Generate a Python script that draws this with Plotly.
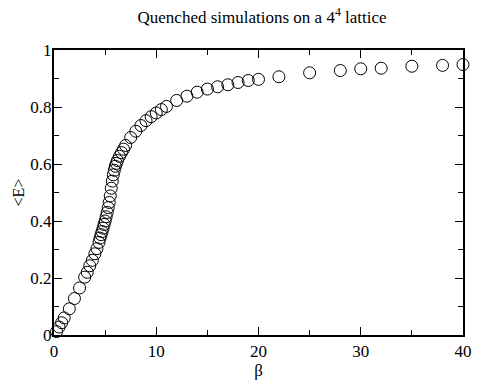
import plotly.graph_objects as go

beta = [0.25, 0.5, 0.75, 1.0, 1.5, 2.0, 2.5, 3.0, 3.25, 3.5, 3.75, 4.0, 4.2, 4.4, 4.5,
        4.6, 4.7, 4.8, 4.9, 5.0, 5.1, 5.2, 5.3, 5.4, 5.5, 5.6, 5.7, 5.8, 5.9, 6.0,
        6.1, 6.2, 6.4, 6.6, 6.8, 7.0, 7.5, 8.0, 8.5, 9.0, 9.5, 10.0, 10.5, 11.0,
        12, 13, 14, 15, 16, 17, 18, 19, 20, 22, 25, 28, 30, 32, 35, 38, 40]
energy = [0.012, 0.028, 0.043, 0.060, 0.092, 0.128, 0.165, 0.203, 0.220, 0.243, 0.262,
          0.285, 0.303, 0.325, 0.340, 0.352, 0.363, 0.375, 0.388, 0.400, 0.415, 0.430,
          0.447, 0.465, 0.488, 0.515, 0.540, 0.562, 0.578, 0.592, 0.602, 0.612, 0.627,
          0.640, 0.652, 0.665, 0.693, 0.715, 0.735, 0.752, 0.766, 0.779, 0.791, 0.802,
          0.823, 0.838, 0.852, 0.863, 0.871, 0.878, 0.886, 0.893, 0.897, 0.906, 0.920,
          0.928, 0.934, 0.936, 0.943, 0.946, 0.949]

x_ticks = [0, 10, 20, 30, 40]
y_ticks = [0, 0.2, 0.4, 0.6, 0.8, 1]
y_tick_labels = ["0", "0.2", "0.4", "0.6", "0.8", "1"]

FONT = "Liberation Serif, Times New Roman, serif"

fig = go.Figure()
fig.add_trace(go.Scatter(
    x=beta, y=energy, mode="markers",
    marker=dict(symbol="circle-open", size=12, color="black", line=dict(width=1, color="black")),
    cliponaxis=False, showlegend=False,
))

axis_common = dict(
    showgrid=False, zeroline=False, showline=True, linecolor="black", linewidth=2,
    mirror="ticks", ticks="inside", ticklen=8, tickwidth=1, tickcolor="black",
    tickfont=dict(family=FONT, size=17, color="black"),
)

fig.update_xaxes(
    range=[0, 40], tickvals=x_ticks, ticktext=[str(v) for v in x_ticks],
    minor=dict(dtick=5, ticks="inside", ticklen=5, tickcolor="black", tickwidth=1),
    title=dict(text="β", font=dict(family=FONT, size=17, color="black"), standoff=0),
    **axis_common,
)
fig.update_yaxes(
    range=[0, 1], tickvals=y_ticks, ticktext=y_tick_labels,
    minor=dict(dtick=0.1, ticks="inside", ticklen=5, tickcolor="black", tickwidth=1),
    title=dict(text="&lt;E&gt;", font=dict(family=FONT, size=16, color="black"), standoff=2),
    ticklabelstandoff=-3,
    **axis_common,
)

fig.update_layout(
    width=480, height=381,
    margin=dict(l=54, r=8, t=50, b=39),
    paper_bgcolor="white", plot_bgcolor="white",
    font=dict(family=FONT, color="black"),
    title=dict(text="Quenched simulations on a 4<sup>4</sup> lattice",
               font=dict(family=FONT, size=17, color="black"),
               x=0.546, xanchor="center", y=0.955, yanchor="middle"),
)

fig.write_html("out.html")
